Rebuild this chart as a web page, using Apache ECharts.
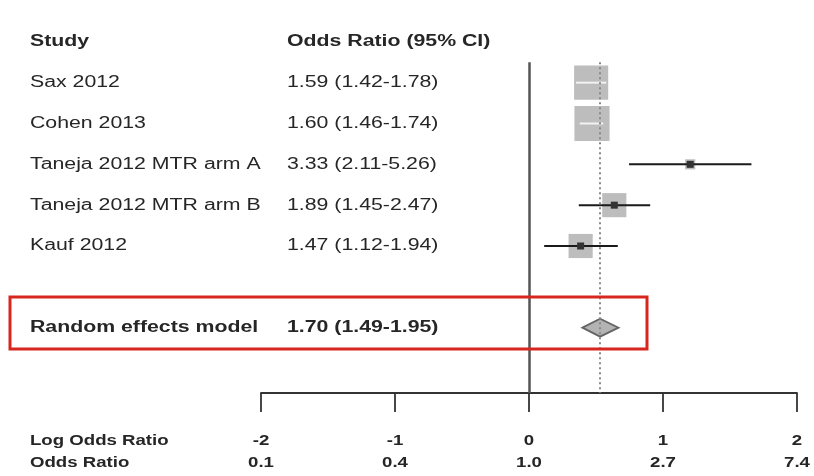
<!DOCTYPE html>
<html>
<head>
<meta charset="utf-8">
<style>
  html, body { margin: 0; padding: 0; background: #fff; }
  #chart { width: 814px; height: 476px; }
</style>
<script src="https://cdn.jsdelivr.net/npm/echarts@6/dist/echarts.min.js"></script>
</head>
<body>
<div id="chart"></div>
<script>
// Forest plot: odds ratios of individual studies and the pooled random-effects estimate
const studies = ['Sax 2012', 'Cohen 2013', 'Taneja 2012 MTR arm A', 'Taneja 2012 MTR arm B', 'Kauf 2012'];
const oddsRatio = [1.59, 1.60, 3.33, 1.89, 1.47];
const ciLower = [1.42, 1.46, 2.11, 1.45, 1.12];
const ciUpper = [1.78, 1.74, 5.26, 2.47, 1.94];
const weights = [31.8, 33.7, 2.8, 15.9, 15.9]; // study weights, %

const pooledLabel = 'Random effects model';
const pooledOR = 1.70;
const pooledLower = 1.49;
const pooledUpper = 1.95;

const logTicks = [-2, -1, 0, 1, 2];
const oddsTickLabels = ['0.1', '0.4', '1.0', '2.7', '7.4'];

const headerStudy = 'Study';
const headerOR = 'Odds Ratio (95% CI)';
const axisNameLog = 'Log Odds Ratio';
const axisNameOR = 'Odds Ratio';

// layout
const FONT = '"Liberation Sans", Arial, sans-serif';
const STRETCH = 1.33;
const COL_STUDY = 30;
const COL_OR = 287;
const POOLED_ROW = studies.length + 2;
const Y_MIN = -1, Y_MAX = 8.6;
const TICK_LABEL_Y1 = 441, TICK_LABEL_Y2 = 463;

const fmt = (o, l, u) => `${o.toFixed(2)} (${l.toFixed(2)}-${u.toFixed(2)})`;

const textRows = [{ row: 0, a: headerStudy, b: headerOR, bold: true }];
studies.forEach((s, i) => textRows.push({ row: i + 1, a: s, b: fmt(oddsRatio[i], ciLower[i], ciUpper[i]), bold: false }));
textRows.push({ row: POOLED_ROW, a: pooledLabel, b: fmt(pooledOR, pooledLower, pooledUpper), bold: true });

const studyData = studies.map((s, i) => [Math.log(oddsRatio[i]), i + 1, Math.log(ciLower[i]), Math.log(ciUpper[i]), weights[i]]);
const pooledData = [[Math.log(pooledOR), POOLED_ROW, Math.log(pooledLower), Math.log(pooledUpper)]];

function stretchedText(x, y, text, opts) {
  return {
    type: 'text',
    x: x, y: y,
    scaleX: STRETCH, scaleY: 1,
    style: {
      text: text,
      x: 0, y: 0,
      fontSize: opts.size || 16,
      fontFamily: FONT,
      fontWeight: opts.bold ? 'bold' : 'normal',
      fill: '#262626',
      align: opts.align || 'left',
      verticalAlign: 'middle'
    }
  };
}

const chart = echarts.init(document.getElementById('chart'), null, { renderer: 'canvas' });

chart.setOption({
  backgroundColor: '#ffffff',
  animation: false,
  grid: { left: 261, right: 17, top: 1, bottom: 83 },
  xAxis: {
    type: 'value', min: -2, max: 2, interval: 1,
    axisLine: { show: true, onZero: false, lineStyle: { color: '#333', width: 1.8 } },
    axisTick: { show: true, length: 19, lineStyle: { color: '#333', width: 1.8 } },
    axisLabel: { show: false },
    splitLine: { show: false }
  },
  yAxis: {
    type: 'value', min: Y_MIN, max: Y_MAX, inverse: true, show: false,
    splitLine: { show: false }
  },
  series: [
    {
      // reference lines: no effect and pooled estimate
      type: 'line', data: [], silent: true,
      markLine: {
        symbol: 'none', silent: true, label: { show: false },
        data: [
          [{ coord: [0, 0.5], lineStyle: { color: '#555', width: 2.5, type: 'solid' } }, { coord: [0, Y_MAX] }],
          [{ coord: [Math.log(pooledOR), 0.5], lineStyle: { color: '#8a8a8a', width: 2, type: [2, 3] } }, { coord: [Math.log(pooledOR), Y_MAX] }]
        ]
      }
    },
    {
      // study estimates: weighted squares with confidence intervals
      type: 'custom', data: studyData, encode: { x: 0, y: 1 }, z: 3,
      renderItem: function (params, api) {
        const row = api.value(1);
        const c = api.coord([api.value(0), row]);
        const lo = api.coord([api.value(2), row]);
        const hi = api.coord([api.value(3), row]);
        const s = 6.05 * Math.sqrt(api.value(4));
        const inside = lo[0] >= c[0] - s / 2 && hi[0] <= c[0] + s / 2;
        const children = [
          { type: 'rect', shape: { x: c[0] - s / 2, y: c[1] - s / 2, width: s, height: s }, style: { fill: '#bdbdbd' }, z2: 1 },
          { type: 'line', shape: { x1: lo[0], y1: c[1], x2: hi[0], y2: c[1] }, style: { stroke: inside ? '#f2f2f2' : '#1a1a1a', lineWidth: 2 }, z2: 2 }
        ];
        if (!inside) {
          children.push({ type: 'rect', shape: { x: c[0] - 3.5, y: c[1] - 3.5, width: 7, height: 7 }, style: { fill: '#333' }, z2: 3 });
        }
        return { type: 'group', children: children };
      }
    },
    {
      // pooled estimate diamond
      type: 'custom', data: pooledData, encode: { x: 0, y: 1 }, z: 3,
      renderItem: function (params, api) {
        const row = api.value(1);
        const c = api.coord([api.value(0), row]);
        const lo = api.coord([api.value(2), row]);
        const hi = api.coord([api.value(3), row]);
        const h = 9;
        return {
          type: 'polygon',
          shape: { points: [[lo[0], c[1]], [c[0], c[1] - h], [hi[0], c[1]], [c[0], c[1] + h]] },
          style: { fill: '#b3b3b3', stroke: '#666', lineWidth: 1.8 }
        };
      }
    },
    {
      // study names and odds ratio columns
      type: 'custom', data: textRows.map(r => [0, r.row]), encode: { x: 0, y: 1 }, z: 4, clip: false,
      renderItem: function (params, api) {
        const r = textRows[params.dataIndex];
        const y = api.coord([0, r.row])[1];
        return {
          type: 'group',
          children: [
            stretchedText(COL_STUDY, y, r.a, { bold: r.bold }),
            stretchedText(COL_OR, y, r.b, { bold: r.bold })
          ]
        };
      }
    },
    {
      // tick labels: log odds ratio and odds ratio
      type: 'custom', data: logTicks.map(t => [t, Y_MAX]), encode: { x: 0, y: 1 }, z: 4, clip: false,
      renderItem: function (params, api) {
        const x = api.coord([api.value(0), Y_MAX])[0];
        const i = params.dataIndex;
        const children = [
          stretchedText(x, TICK_LABEL_Y1, String(logTicks[i]), { bold: true, size: 14, align: 'center' }),
          stretchedText(x, TICK_LABEL_Y2, oddsTickLabels[i], { bold: true, size: 14, align: 'center' })
        ];
        if (i === 0) {
          children.push(stretchedText(COL_STUDY, TICK_LABEL_Y1, axisNameLog, { bold: true, size: 14 }));
          children.push(stretchedText(COL_STUDY, TICK_LABEL_Y2, axisNameOR, { bold: true, size: 14 }));
        }
        return { type: 'group', children: children };
      }
    }
  ],
  graphic: [
    {
      // highlight box around the pooled estimate row
      type: 'rect', z: 10,
      shape: { x: 10, y: 297, width: 637, height: 52 },
      style: { fill: 'none', stroke: '#d7261e', lineWidth: 3 }
    }
  ]
});
</script>
</body>
</html>
